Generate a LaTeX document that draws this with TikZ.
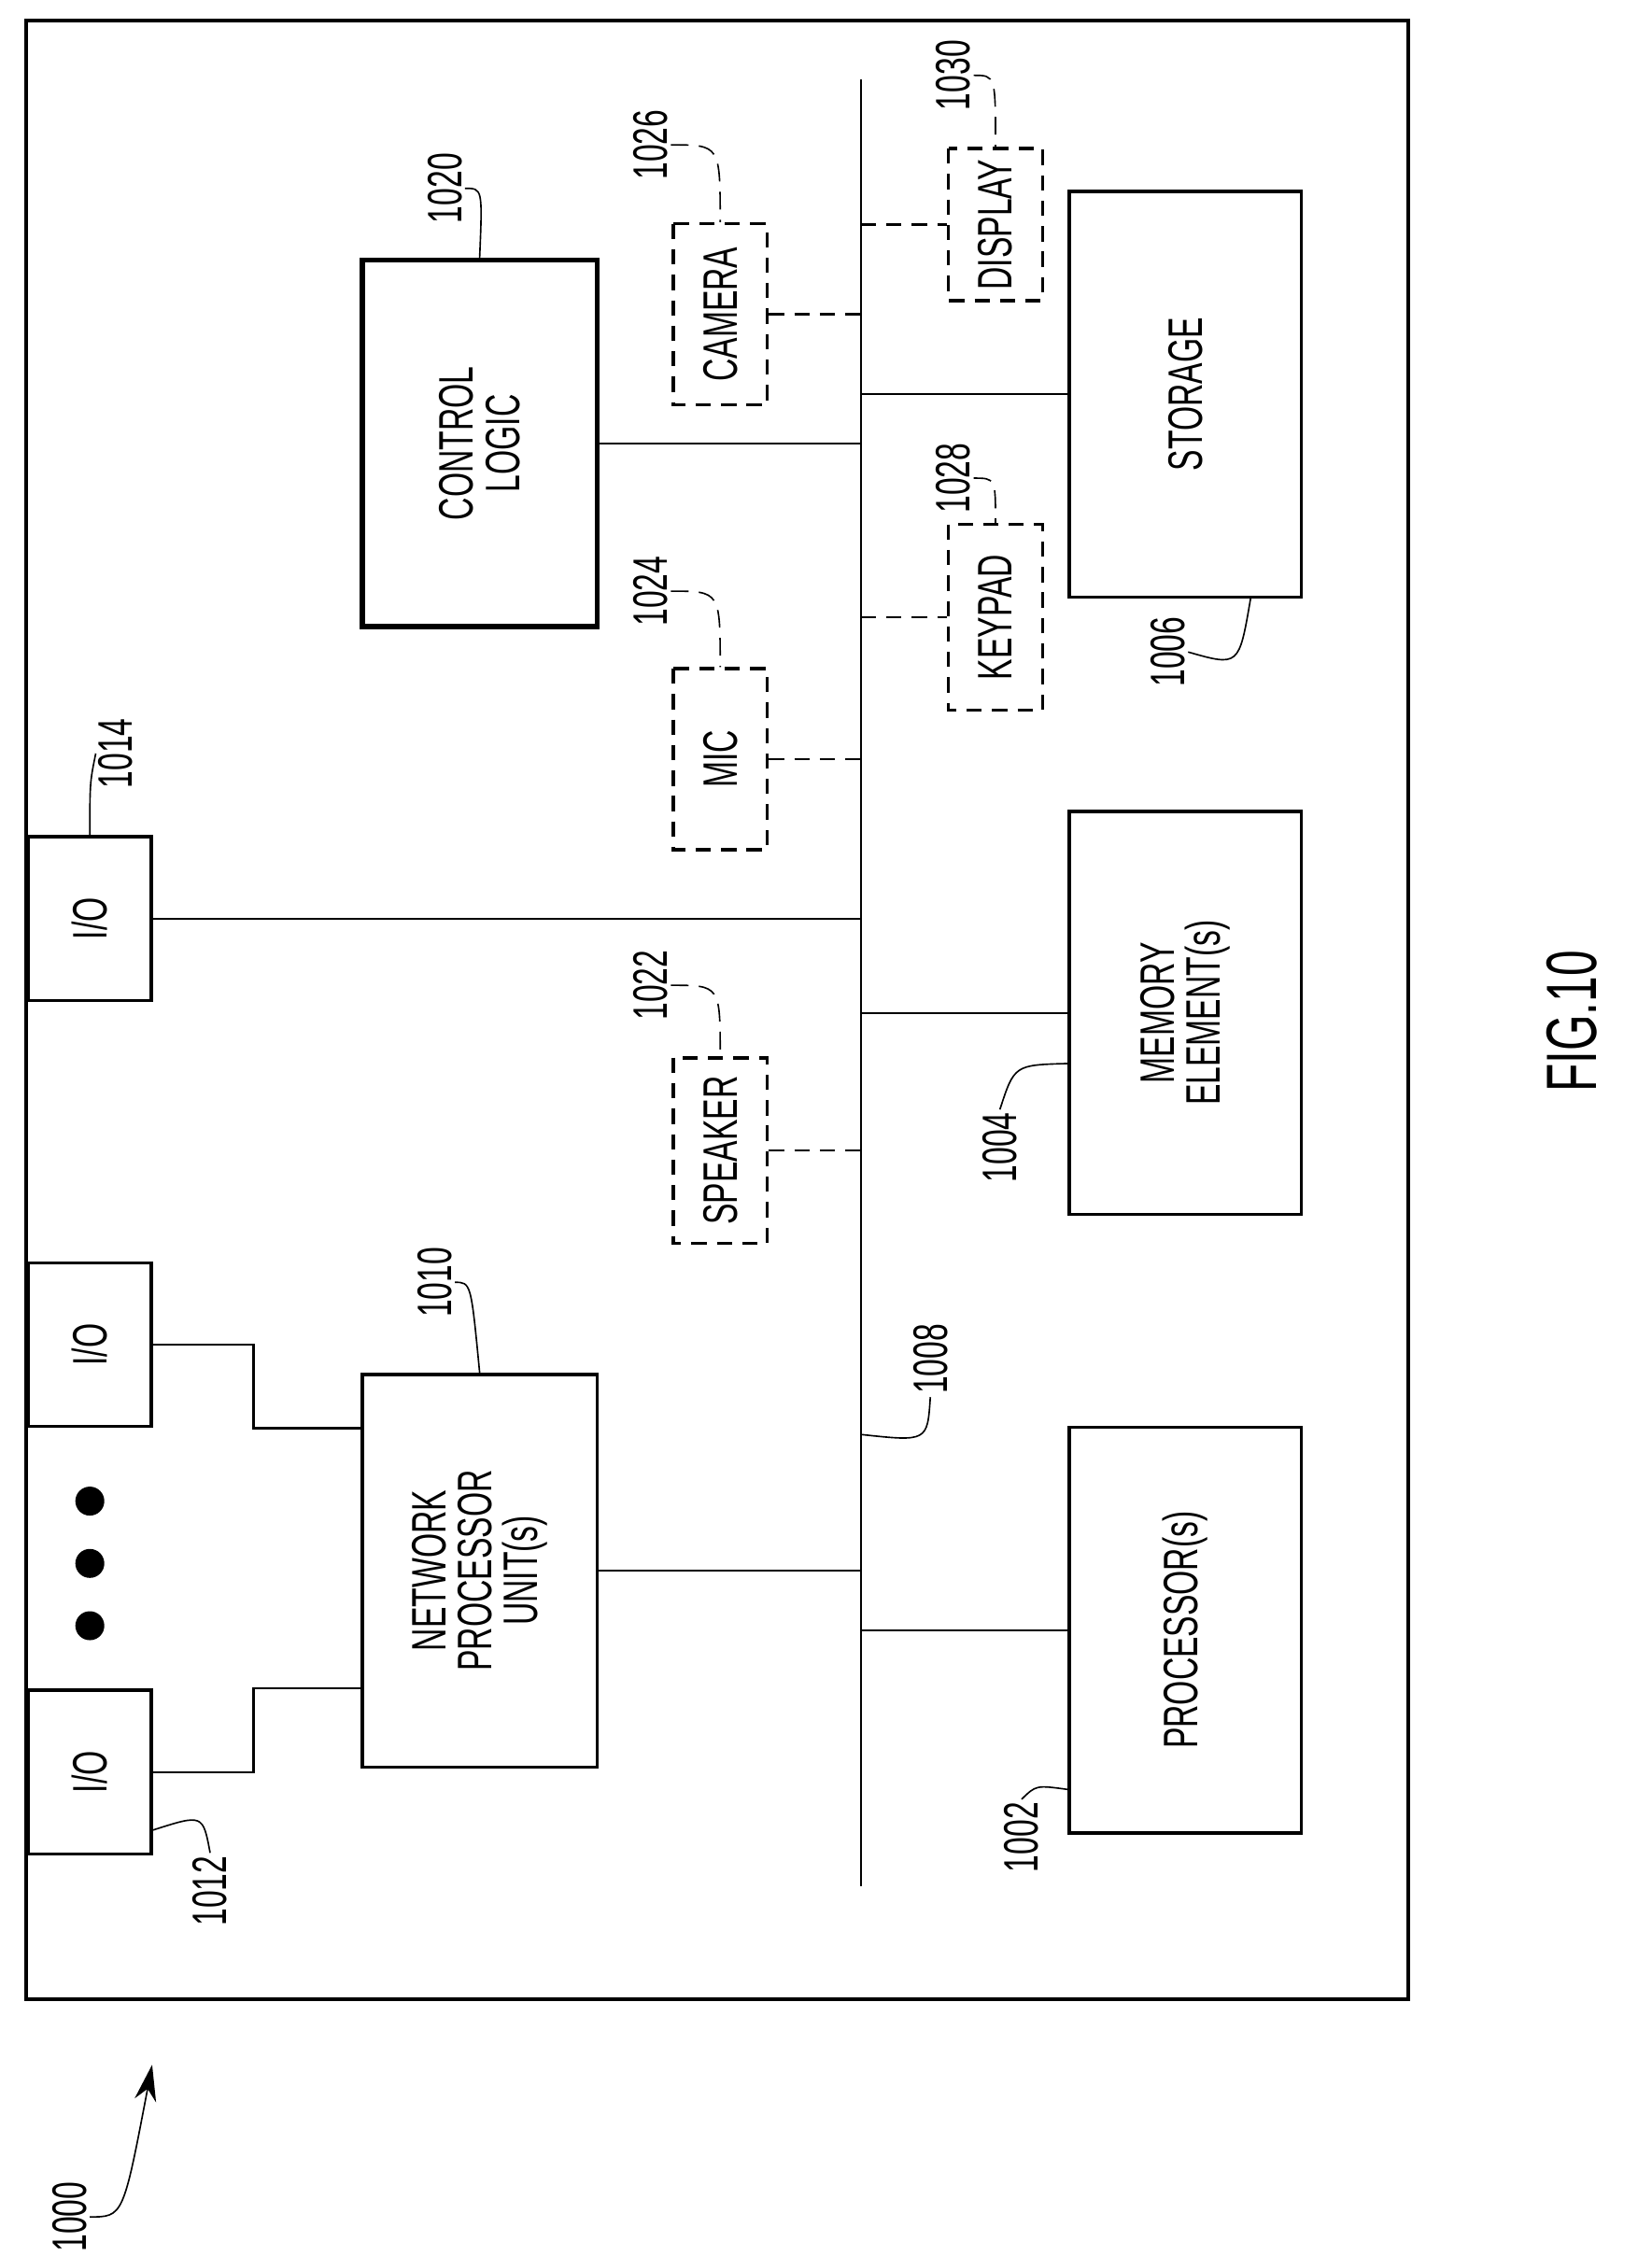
\documentclass[tikz,border=0pt]{standalone}
\usepackage{fontspec}
\setmainfont[FakeStretch=0.65]{Liberation Sans}
\usetikzlibrary{arrows.meta,positioning}

\tikzset{
  box/.style={draw,line width=1.3pt,rotate=90,align=center,inner sep=0pt,
    font=\fontsize{19}{18}\selectfont},
  opt/.style={box,dash pattern=on 6pt off 4pt},
  ref/.style={rotate=90,inner sep=1pt,font=\fontsize{19}{18}\selectfont},
  wire/.style={line width=0.8pt},
  optwire/.style={line width=0.9pt,dash pattern=on 6pt off 4pt},
  lead/.style={line width=0.6pt},
  optlead/.style={line width=0.6pt,dash pattern=on 7pt off 4pt}
}

\begin{document}
\begin{tikzpicture}[x=0.2mm,y=-0.2mm]
    \useasboundingbox (0,0) rectangle (1140,1557);
    %frame
    \draw[line width=1.5pt] (18,14) rectangle (972,1380);
    %bus
    \coordinate (bus top) at (594,55);
    \coordinate (bus bot) at (594,1302);
    \draw[wire] (bus top) -- (bus bot);
    \coordinate (step) at (175,0);

    %main blocks
    \node[box,line width=2pt,minimum width=50.6mm,minimum height=32.4mm] (ctl) at (331,306) {CONTROL\\LOGIC};
    \node[box,minimum width=56mm,minimum height=32mm] (stor) at (818,272) {STORAGE};
    \node[box,minimum width=55.6mm,minimum height=32mm] (mem) at (818,699) {MEMORY\\ELEMENT(s)};
    \node[box,minimum width=56mm,minimum height=32mm] (proc) at (818,1125) {PROCESSOR(s)};
    \node[box,minimum width=54.2mm,minimum height=32.4mm] (npu) at (331,1084) {NETWORK\\PROCESSOR\\UNIT(s)};

    %i/o
    \node[box,minimum width=22.6mm,minimum height=17mm] (io1) at (62,634) {I/O};
    \node[box,minimum width=22.6mm,minimum height=17mm] (io2) at (62,928) {I/O};
    \node[box,minimum width=22.6mm,minimum height=17mm] (io3) at (62,1223) {I/O};
    \foreach \y in {1036,1079,1122}
      \fill (62,\y) circle (10);

    %optional devices
    \node[opt,minimum width=25mm,minimum height=13mm] (cam) at (497,217) {CAMERA};
    \node[opt,minimum width=21mm,minimum height=13mm] (disp) at (687,155) {DISPLAY};
    \node[opt,minimum width=25.6mm,minimum height=13mm] (key) at (687,426) {KEYPAD};
    \node[opt,minimum width=25mm,minimum height=13mm] (mic) at (497,524) {MIC};
    \node[opt,minimum width=25.6mm,minimum height=13mm] (spk) at (497,794) {SPEAKER};

    %connections to bus
    \draw[wire] (ctl.south) -- (ctl.south -| bus top);
    \draw[wire] (stor.north -| bus top) -- (stor.north);
    \draw[wire] (mem.north -| bus top) -- (mem.north);
    \draw[wire] (proc.north -| bus top) -- (proc.north);
    \draw[wire] (npu.south) -- (npu.south -| bus top);
    \draw[wire] (io1.south) -- (io1.south -| bus top);
    \draw[wire] (io2.south) -| (step |- io2.west) -- (npu.north |- io2.west);
    \draw[wire] (io3.south) -| (step |- io3.east) -- (npu.north |- io3.east);
    \draw[optwire] (cam.south) -- (cam.south -| bus top);
    \draw[optwire] (mic.south) -- (mic.south -| bus top);
    \draw[optwire] (spk.south) -- (spk.south -| bus top);
    \draw[optwire] (disp.north -| bus top) -- (disp.north);
    \draw[optwire] (key.north -| bus top) -- (key.north);

    %reference numerals
    \node[ref] (l1020) at (307,130) {1020};
    \node[ref] (l1026) at (449,100) {1026};
    \node[ref] (l1030) at (658,52) {1030};
    \node[ref] (l1028) at (658,330) {1028};
    \node[ref] (l1024) at (449,408) {1024};
    \node[ref] (l1022) at (449,680) {1022};
    \node[ref] (l1006) at (806,450) {1006};
    \node[ref] (l1004) at (690,792) {1004};
    \node[ref] (l1014) at (80,520) {1014};
    \node[ref] (l1010) at (300,885) {1010};
    \node[ref] (l1008) at (642,938) {1008};
    \node[ref] (l1012) at (145,1305) {1012};
    \node[ref] (l1002) at (705,1268) {1002};
    \node[ref] (l1000) at (48,1530) {1000};
    \node[rotate=90,font=\fontsize{28}{28}\selectfont] (fig) at (1085,705) {FIG.10};

    %leaders
    \draw[lead] (l1020.south) .. controls (333,130) .. (ctl.east);
    \draw[optlead] (l1026.south) .. controls (497,100) .. (cam.east);
    \draw[optlead] (l1030.south) .. controls (687,52) .. (disp.east);
    \draw[optlead] (l1028.south) .. controls (687,330) .. (key.east);
    \draw[optlead] (l1024.south) .. controls (497,408) .. (mic.east);
    \draw[optlead] (l1022.south) .. controls (497,680) .. (spk.east);
    \draw[lead] (l1010.south) .. controls (325,885) .. (npu.east);
    \draw[lead] (l1014.north) .. controls (62,540) .. (io1.east);
    \draw[lead] (l1006.south) .. controls (855,460) .. ([xshift=9mm]stor.west);
    \draw[lead] (l1004.east) .. controls (700,735) .. ([yshift=-7mm]mem.north);
    \draw[lead] (l1002.east) .. controls (715,1232) .. ([yshift=-22mm]proc.north);
    \coordinate (b1008) at (594,990);
    \draw[lead] (l1008.west) .. controls (640,995) .. (b1008);
    \draw[lead] (l1012.east) .. controls (140,1252) .. ([yshift=-8mm]io3.south);
    \coordinate (a1000) at (105,1425);
    \draw[lead,-{Stealth[length=5mm,width=3mm]}] (l1000.south) .. controls (85,1530) .. (a1000);
\end{tikzpicture}
\end{document}
